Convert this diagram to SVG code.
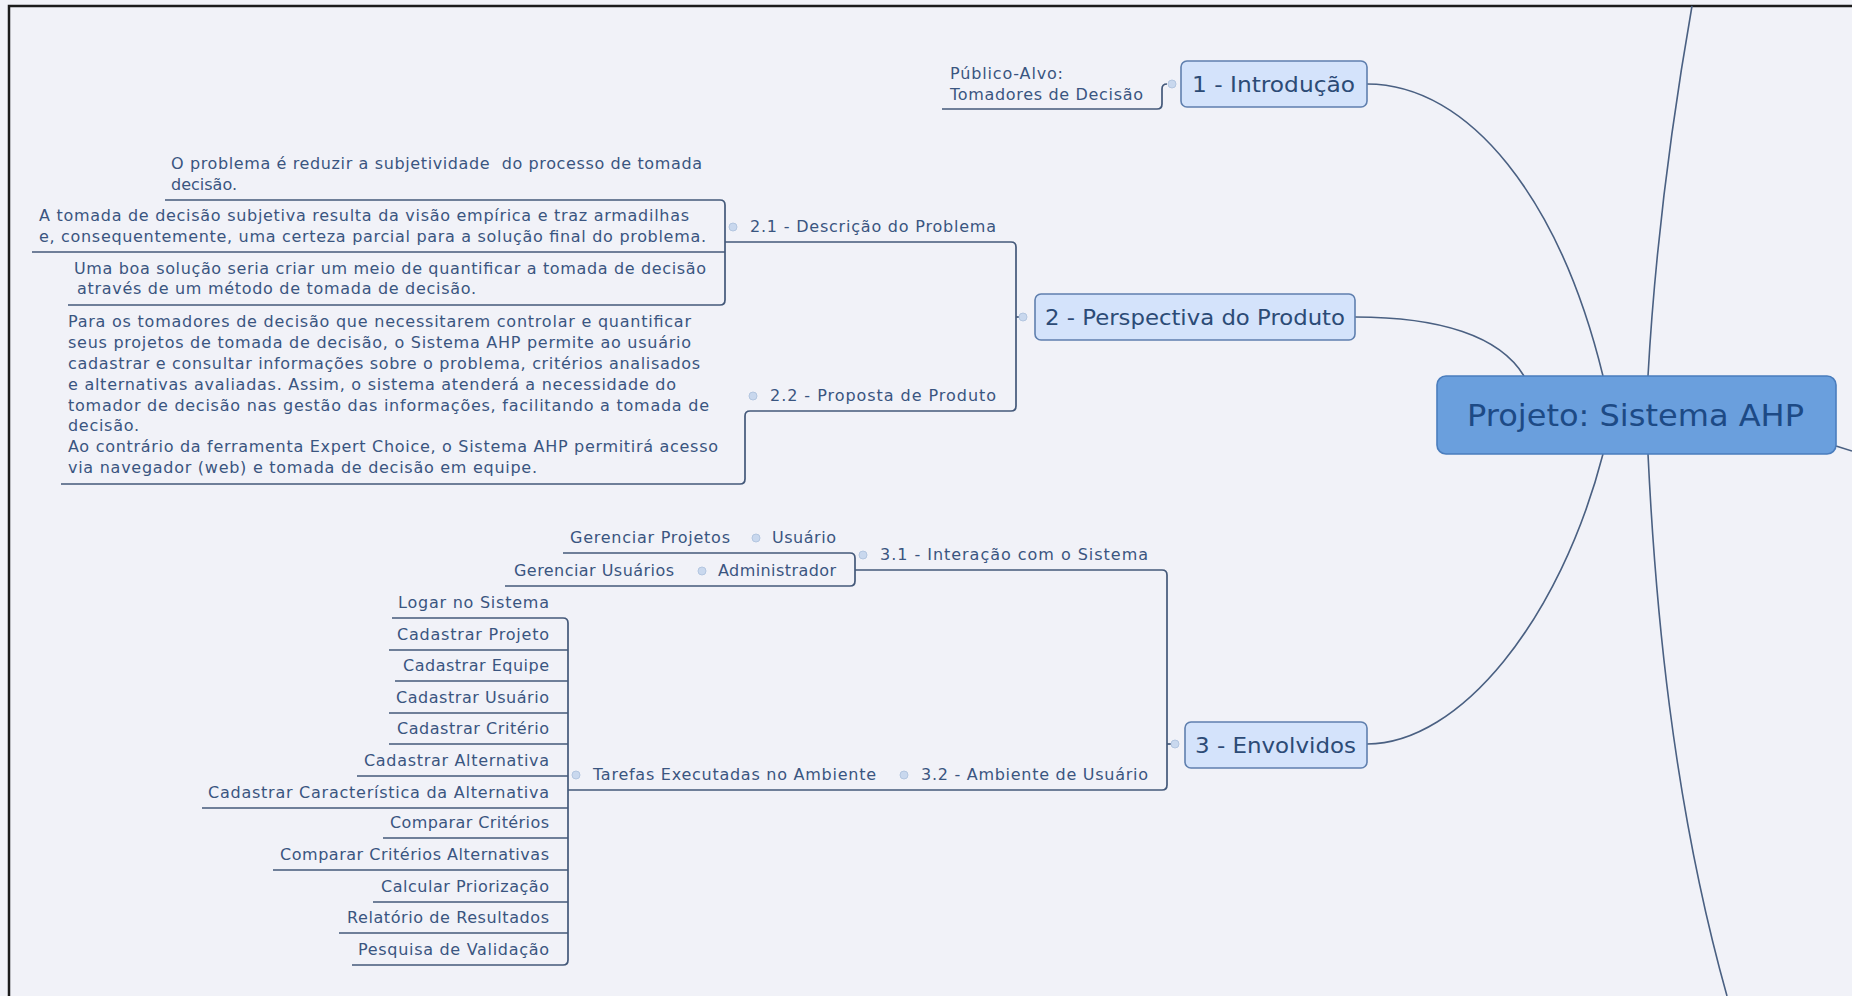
<svg xmlns="http://www.w3.org/2000/svg" width="1852" height="996" viewBox="0 0 1852 996">
  <style>
    .bg { fill: #f1f2f8; }
    .frame { stroke: #1c1c1c; stroke-width: 2.5; fill: none; }
    .link { fill: none; stroke: #44597a; stroke-width: 1.7; }
    .curve { fill: none; stroke: #4a6082; stroke-width: 1.6; }
    .dot { fill: #c9d8ee; stroke: #b3c6e0; stroke-width: 1; }
    .topic { fill: #d4e3fb; stroke: #5f7fae; stroke-width: 1.6; }
    .root { fill: #6a9fdd; stroke: #4a7dbd; stroke-width: 1.6; }
    .t { font-family: "DejaVu Sans", Verdana, sans-serif; font-size: 16px; fill: #3a5580; }
    .tt { font-family: "DejaVu Sans", Verdana, sans-serif; font-size: 22px; fill: #2c4b76; }
    .rt { font-family: "DejaVu Sans", Verdana, sans-serif; font-size: 30px; fill: #1d4a85; }
  </style>

  <rect class="bg" x="0" y="0" width="1852" height="996"/>
  <path class="frame" d="M9,996 V6 H1852"/>

  <!-- connectors -->
  <g id="connectors">
    <!-- root to main topics -->
    <path class="curve" d="M1603,376 C1560,200 1470,84 1367,84"/>
    <path class="curve" d="M1524,376 C1500,336 1440,317 1355,317"/>
    <path class="curve" d="M1603,454 C1560,620 1460,744 1367,744"/>
    <path class="curve" d="M1648,376 C1655,250 1672,120 1692,6"/>
    <path class="curve" d="M1648,454 C1655,600 1672,800 1727,996"/>
    <path class="curve" d="M1836,446 L1852,451"/>

    <!-- 1 - Introdução -->
    <path class="link" d="M942,109 H1157 Q1162,109 1162,104 V89 Q1162,84 1167,84"/>

    <!-- 2 - Perspectiva do Produto -->
    <path class="link" d="M61,484 H740 Q745,484 745,479 V416 Q745,411 750,411 H1011 Q1016,411 1016,406 V247 Q1016,242 1011,242 H725"/>
    <path class="link" d="M1016,317 H1019"/>
    <!-- 2.1 children -->
    <path class="link" d="M165,200 H720 Q725,200 725,205 V300 Q725,305 720,305 H68"/>
    <path class="link" d="M32,252 H725"/>

    <!-- 3 - Envolvidos -->
    <path class="link" d="M855,570 H1162 Q1167,570 1167,575 V785 Q1167,790 1162,790 H568"/>
    <path class="link" d="M1167,744 H1171"/>
    <!-- 3.1 children -->
    <path class="link" d="M563,553 H850 Q855,553 855,558 V581 Q855,586 850,586 H505"/>
    <!-- tasks -->
    <path class="link" d="M392,618 H563 Q568,618 568,623 V960 Q568,965 563,965 H352"/>
    <path class="link" d="M389,650 H568 M395,681 H568 M389,713 H568 M389,744 H568 M357,776 H568 M202,808 H568 M383,838 H568 M273,870 H568 M373,902 H568 M339,933 H568"/>
  </g>

  <!-- central topic -->
  <g id="root">
    <rect class="root" x="1437" y="376" width="399" height="78" rx="9"/>
    <text class="rt" x="1467" y="426" textLength="337" lengthAdjust="spacingAndGlyphs">Projeto: Sistema AHP</text>
  </g>

  <!-- 1 - Introdução -->
  <g id="topic-1">
    <rect class="topic" x="1181" y="61" width="186" height="46" rx="6"/>
    <circle class="dot" cx="1172" cy="84" r="4"/>
    <text class="tt" x="1192" y="92" textLength="163" lengthAdjust="spacingAndGlyphs">1 - Introdução</text>
  </g>
  <g id="publico-alvo">
    <text class="t" x="950" y="79" textLength="113">Público-Alvo:</text>
    <text class="t" x="950" y="100" textLength="193">Tomadores de Decisão</text>
  </g>

  <!-- 2 - Perspectiva do Produto -->
  <g id="topic-2">
    <rect class="topic" x="1035" y="294" width="320" height="46" rx="6"/>
    <circle class="dot" cx="1023" cy="317" r="4"/>
    <text class="tt" x="1045" y="325" textLength="300" lengthAdjust="spacingAndGlyphs">2 - Perspectiva do Produto</text>
  </g>

  <g id="topic-2-1">
    <circle class="dot" cx="733" cy="227" r="4"/>
    <text class="t" x="750" y="232" textLength="246">2.1 - Descrição do Problema</text>
  </g>
  <g id="problema-1">
    <text class="t" x="171" y="169" textLength="531" xml:space="preserve">O problema é reduzir a subjetividade  do processo de tomada</text>
    <text class="t" x="171" y="190">decisão.</text>
  </g>
  <g id="problema-2">
    <text class="t" x="39" y="221" textLength="650">A tomada de decisão subjetiva resulta da visão empírica e traz armadilhas</text>
    <text class="t" x="39" y="242" textLength="667">e, consequentemente, uma certeza parcial para a solução final do problema.</text>
  </g>
  <g id="problema-3">
    <text class="t" x="74" y="274" textLength="632">Uma boa solução seria criar um meio de quantificar a tomada de decisão</text>
    <text class="t" x="77" y="294" textLength="399">através de um método de tomada de decisão.</text>
  </g>

  <g id="topic-2-2">
    <circle class="dot" cx="753" cy="396" r="4"/>
    <text class="t" x="770" y="401" textLength="226">2.2 - Proposta de Produto</text>
  </g>
  <g id="proposta">
    <text class="t" x="68" y="327" textLength="623">Para os tomadores de decisão que necessitarem controlar e quantificar</text>
    <text class="t" x="68" y="348" textLength="623">seus projetos de tomada de decisão, o Sistema AHP permite ao usuário</text>
    <text class="t" x="68" y="369" textLength="632">cadastrar e consultar informações sobre o problema, critérios analisados</text>
    <text class="t" x="68" y="390" textLength="608">e alternativas avaliadas. Assim, o sistema atenderá a necessidade do</text>
    <text class="t" x="68" y="411" textLength="641">tomador de decisão nas gestão das informações, facilitando a tomada de</text>
    <text class="t" x="68" y="431" textLength="71">decisão.</text>
    <text class="t" x="68" y="452" textLength="650">Ao contrário da ferramenta Expert Choice, o Sistema AHP permitirá acesso</text>
    <text class="t" x="68" y="473" textLength="469">via navegador (web) e tomada de decisão em equipe.</text>
  </g>

  <!-- 3 - Envolvidos -->
  <g id="topic-3">
    <rect class="topic" x="1185" y="722" width="182" height="46" rx="6"/>
    <circle class="dot" cx="1175" cy="744" r="4"/>
    <text class="tt" x="1195" y="753" textLength="161" lengthAdjust="spacingAndGlyphs">3 - Envolvidos</text>
  </g>

  <g id="topic-3-1">
    <circle class="dot" cx="863" cy="555" r="4"/>
    <text class="t" x="880" y="560" textLength="268">3.1 - Interação com o Sistema</text>
  </g>
  <g id="usuario">
    <circle class="dot" cx="756" cy="538" r="4"/>
    <text class="t" x="772" y="543" textLength="64">Usuário</text>
  </g>
  <g id="gerenciar-projetos">
    <text class="t" x="570" y="543" textLength="160">Gerenciar Projetos</text>
  </g>
  <g id="administrador">
    <circle class="dot" cx="702" cy="571" r="4"/>
    <text class="t" x="718" y="576" textLength="118">Administrador</text>
  </g>
  <g id="gerenciar-usuarios">
    <text class="t" x="514" y="576" textLength="160">Gerenciar Usuários</text>
  </g>

  <g id="topic-3-2">
    <circle class="dot" cx="904" cy="775" r="4"/>
    <text class="t" x="921" y="780" textLength="227">3.2 - Ambiente de Usuário</text>
  </g>
  <g id="tarefas">
    <circle class="dot" cx="576" cy="775" r="4"/>
    <text class="t" x="593" y="780" textLength="283">Tarefas Executadas no Ambiente</text>
  </g>

  <g id="tarefa-logar"><text class="t" x="398" y="608" textLength="151">Logar no Sistema</text></g>
  <g id="tarefa-projeto"><text class="t" x="397" y="640" textLength="152">Cadastrar Projeto</text></g>
  <g id="tarefa-equipe"><text class="t" x="403" y="671" textLength="146">Cadastrar Equipe</text></g>
  <g id="tarefa-usuario"><text class="t" x="396" y="703" textLength="153">Cadastrar Usuário</text></g>
  <g id="tarefa-criterio"><text class="t" x="397" y="734" textLength="152">Cadastrar Critério</text></g>
  <g id="tarefa-alternativa"><text class="t" x="364" y="766" textLength="185">Cadastrar Alternativa</text></g>
  <g id="tarefa-caracteristica"><text class="t" x="208" y="798" textLength="341">Cadastrar Característica da Alternativa</text></g>
  <g id="tarefa-comparar"><text class="t" x="390" y="828" textLength="159">Comparar Critérios</text></g>
  <g id="tarefa-comparar-alt"><text class="t" x="280" y="860" textLength="269">Comparar Critérios Alternativas</text></g>
  <g id="tarefa-calcular"><text class="t" x="381" y="892" textLength="168">Calcular Priorização</text></g>
  <g id="tarefa-relatorio"><text class="t" x="347" y="923" textLength="202">Relatório de Resultados</text></g>
  <g id="tarefa-pesquisa"><text class="t" x="358" y="955" textLength="191">Pesquisa de Validação</text></g>
</svg>
